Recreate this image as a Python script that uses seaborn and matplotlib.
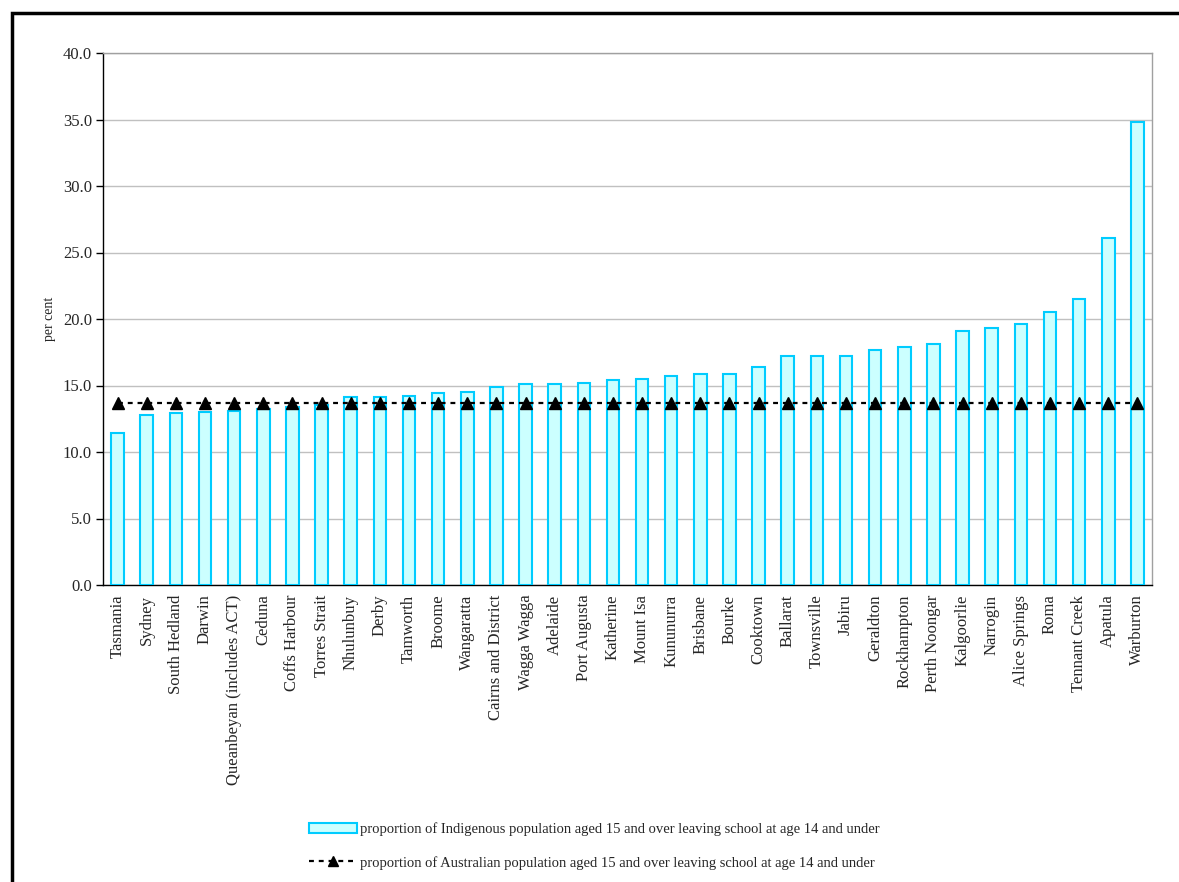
import matplotlib
matplotlib.use("Agg")
import matplotlib.pyplot as plt
import seaborn as sns
import numpy as np
from matplotlib.patches import Rectangle
from matplotlib.lines import Line2D

# regions, sorted by share of Indigenous people leaving school at 14 or under
regions = ["Tasmania", "Sydney", "South Hedland", "Darwin", "Queanbeyan (includes ACT)",
           "Ceduna", "Coffs Harbour", "Torres Strait", "Nhulunbuy", "Derby", "Tamworth",
           "Broome", "Wangaratta", "Cairns and District", "Wagga Wagga", "Adelaide",
           "Port Augusta", "Katherine", "Mount Isa", "Kununurra", "Brisbane", "Bourke",
           "Cooktown", "Ballarat", "Townsville", "Jabiru", "Geraldton", "Rockhampton",
           "Perth Noongar", "Kalgoorlie", "Narrogin", "Alice Springs", "Roma",
           "Tennant Creek", "Apatula", "Warburton"]
indigenous = [11.4, 12.8, 12.9, 13.0, 13.1, 13.2, 13.4, 13.5, 14.1, 14.1, 14.2, 14.4,
              14.5, 14.9, 15.1, 15.1, 15.2, 15.4, 15.5, 15.7, 15.9, 15.9, 16.4, 17.2,
              17.2, 17.2, 17.7, 17.9, 18.1, 19.1, 19.3, 19.6, 20.5, 21.5, 26.1, 34.8]
australia = 13.7

label_bar = "proportion of Indigenous population aged 15 and over leaving school at age 14 and under"
label_line = "proportion of Australian population aged 15 and over leaving school at age 14 and under"

sns.set_style("white")
plt.rcParams["font.family"] = ["Liberation Serif", "DejaVu Serif"]

fig = plt.figure(figsize=(11.79, 8.82), dpi=100)
ax = fig.add_axes([103 / 1179, 1 - 585 / 882, (1152 - 103) / 1179, (585 - 53) / 882])

sns.barplot(x=regions, y=indigenous, color="#CCFFFF", edgecolor="#00CCFF",
            linewidth=1.5, width=0.43, saturation=1, ax=ax, zorder=3)
xs = np.arange(len(regions))
ax.plot(xs, np.full(len(regions), australia), color="black", lw=1.6,
        linestyle=(0, (2.2, 2.2)), marker="^", markersize=8, zorder=4)

ax.set_xlim(-0.5, len(regions) - 0.5)
ax.set_ylim(0, 40)
ax.set_yticks(np.arange(0, 41, 5))
ax.set_yticklabels([f"{v:.1f}" for v in np.arange(0, 41, 5)], fontsize=12)
ax.yaxis.grid(True, color="#C0C0C0", lw=1)
ax.set_axisbelow(True)

ax.set_xticks(xs)
ax.set_xticklabels(regions, rotation=90, fontsize=12)
ax.set_xticks(np.arange(-0.5, len(regions)), minor=True)
ax.tick_params(axis="x", which="major", length=0, pad=7)
ax.tick_params(axis="x", which="minor", length=5, width=1, color="black", direction="out")
ax.tick_params(axis="y", length=5, width=1, color="black", direction="out", left=True, pad=3)
ax.set_xlabel("")
ax.set_ylabel("per cent", fontsize=10)
ax.yaxis.set_label_coords(-0.045, 0.5)

for side in ["left", "bottom"]:
    ax.spines[side].set_color("black")
    ax.spines[side].set_linewidth(1)
for side in ["top", "right"]:
    ax.spines[side].set_visible(True)
    ax.spines[side].set_color("#A0A0A0")
    ax.spines[side].set_linewidth(1)

handles = [Rectangle((0, 0), 1, 1, facecolor="#CCFFFF", edgecolor="#00CCFF", lw=1.5),
           Line2D([], [], color="black", lw=1.6, linestyle=(0, (2.2, 2.2)),
                  marker="^", markersize=7)]
fig.legend(handles, [label_bar, label_line], loc="upper left",
           bbox_to_anchor=(302 / 1179, 1 - 815 / 882), frameon=False, fontsize=10.5,
           handlelength=3.3, handleheight=0.7, handletextpad=0.15, labelspacing=1.35,
           borderpad=0)

# outer frame of the chart
fig.patches.append(Rectangle((12 / 1179, -0.1), 1.2, 1 - 13 / 882 + 0.1,
                             transform=fig.transFigure, fill=False,
                             edgecolor="black", lw=2.5))

fig.savefig("out.png", dpi=100)
